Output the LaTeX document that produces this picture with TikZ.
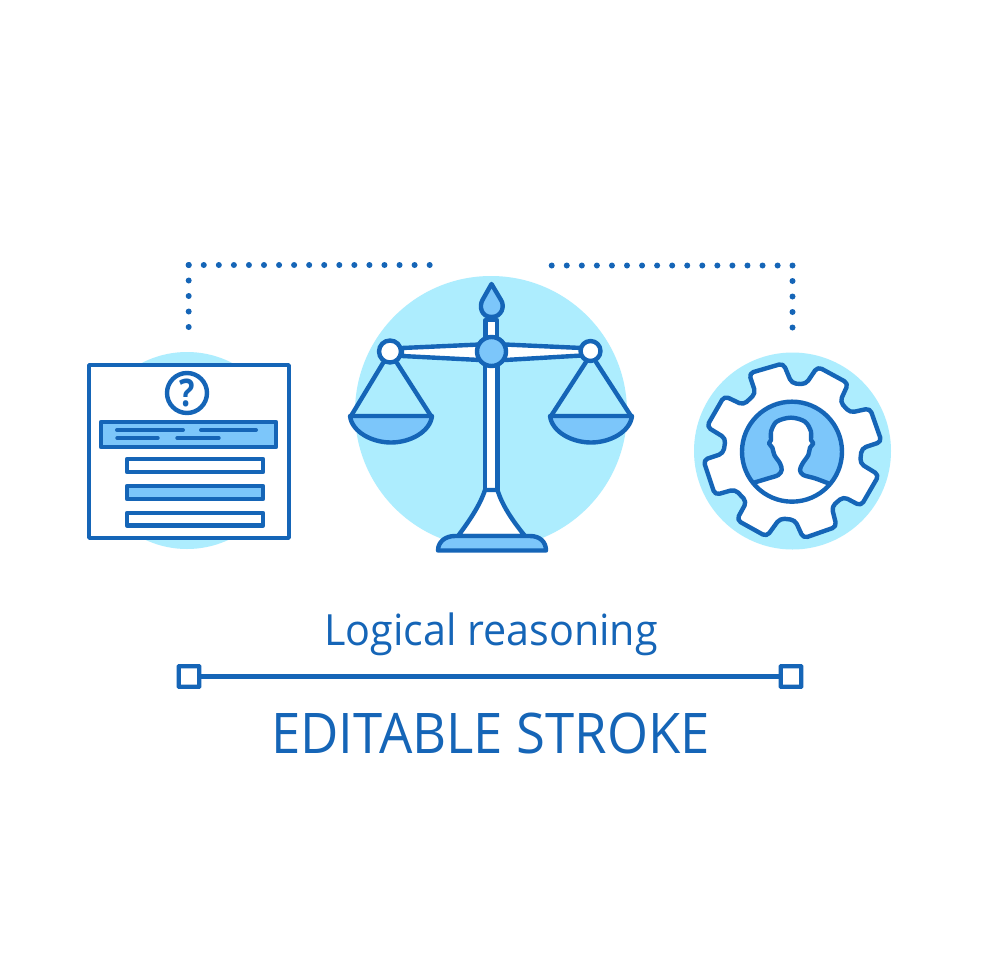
\documentclass[tikz,border=0pt]{standalone}
\usepackage{graphicx}
\usepackage{fontspec}
\setmainfont{Open Sans}
\definecolor{ink}{HTML}{1565B7}
\definecolor{pale}{HTML}{ADEDFE}
\definecolor{mid}{HTML}{7CC6FA}
\tikzset{
  ln/.style={draw=ink,line width=4.4pt,line join=round,line cap=round},
  thinln/.style={draw=ink,line width=4pt,line join=round,line cap=round},
  dotsh/.style={draw=ink,line width=6pt,line cap=round,dash pattern=on 0pt off 15.06pt},
  dotsv/.style={draw=ink,line width=6pt,line cap=round,dash pattern=on 0pt off 15.5pt},
  disc/.style={fill=pale,draw=none},
  handle/.style={draw=ink,line width=4.4pt,fill=white,minimum size=20.5pt,inner sep=0,rounded corners=0.5pt},
}
\begin{document}
\begin{tikzpicture}[x=1pt,y=-1pt]
\useasboundingbox (0,0) rectangle (980,980);
\fill[white] (0,0) rectangle (980,980);
% background discs
\fill[disc] (187,450.5) circle (98.5);
\fill[disc] (491,412) circle (136);
\fill[disc] (792.5,451) circle (98.5);
% dotted connectors
\coordinate (la) at (188.7,327.4);
\coordinate (lb) at (188.7,265);
\coordinate (lc) at (430.5,265);
\coordinate (ra) at (551.7,265.5);
\coordinate (rb) at (792.5,265.5);
\coordinate (rc) at (792.5,327.6);
\draw[dotsh] (lb) -- (lc);
\draw[dotsv] (lb) -- (la);
\draw[dotsh] (ra) -- (rb);
\draw[dotsv] (rb) -- (rc);
% panel
\draw[ln,fill=white] (89.2,365.2) rectangle (288.8,537.8);
\draw[ln,fill=white] (187,393) circle (20);
\node[text=ink,font=\fontsize{38}{38}\selectfont\bfseries,inner sep=0] at (187,393) {\scalebox{.85}[1]{?}};
\draw[ln,fill=mid] (101,422) rectangle (276,447);
\draw[thinln] (117,430) -- (183,430) (201,430) -- (256,430);
\draw[thinln,line width=3.4pt] (117,438) -- (158,438) (177,438) -- (219,438);
\draw[ln,fill=white] (127,459) rectangle (263,472);
\draw[ln,fill=mid] (127,486) rectangle (263,499);
\draw[ln,fill=white] (127,513) rectangle (263,525.5);
% scales
\draw[ln,fill=white] (485.5,320) rectangle (497,340);
\draw[ln,fill=mid] (491.5,284) -- (482.5,300) .. controls (479,306) and (481,317) .. (491.5,317) .. controls (502,317) and (505,306) .. (501,300) -- (491.5,284) -- cycle;
\draw[ln,fill=white] (402,348) -- (480,344.5) -- (505,344.5) -- (582,348) -- (582,355.5) -- (505,360) -- (480,360) -- (402,356) -- cycle;
\draw[ln,fill=white] (485,365) rectangle (497.5,492);
\draw[ln,fill=white] (485,490) .. controls (480,505) and (470,520) .. (458,536) -- (525,536) .. controls (512,520) and (502,505) .. (497.5,490) -- cycle;
\draw[ln,fill=mid] (438,550.5) -- (546,550.5) .. controls (546,542) and (540,536) .. (530,536) -- (455,536) .. controls (445,536) and (438,542) .. (438,550.5) -- cycle;
\draw[ln] (383,363) -- (351,416) (397,363) -- (431,416);
\draw[ln] (586,362) -- (551,416) (596,362) -- (631,416);
\draw[ln,fill=mid] (350,416) -- (432,416) .. controls (430,432) and (410,442.5) .. (391,442.5) .. controls (372,442.5) and (352,432) .. (350,416) -- cycle;
\draw[ln,fill=mid] (550,416) -- (632,416) .. controls (630,432) and (610,442.5) .. (591,442.5) .. controls (572,442.5) and (552,432) .. (550,416) -- cycle;
\draw[ln,fill=mid] (491.5,351.5) circle (14.5);
\draw[ln,fill=white] (390,351.5) circle (11);
\draw[ln,fill=white] (590.5,351) circle (10);
% gear (zoom coordinates mapped to the page)
\begin{scope}[shift={(685,340)},x=0.3333pt,y=-0.3333pt]
\draw[ln,fill=white,rounded corners=4.5pt]
 (192,100)--(295,70)--(320,130)--(362,133)--(398,80)--(490,130)--(465,185)--(495,218)
 --(555,205)--(590,305)--(530,325)--(525,370)--(582,405)--(528,498)--(475,470)--(440,500)
 --(455,560)--(355,595)--(330,540)--(285,535)--(245,590)--(155,540)--(185,485)--(150,448)
 --(90,465)--(55,360)--(115,340)--(122,295)--(65,260)--(118,168)--(175,195)--(212,160)--cycle;
\end{scope}
\begin{scope}[shift={(735,395)},x=0.3333pt,y=-0.3333pt]
\fill[mid] (171,170) circle (150);
\begin{scope}
\clip (171,170) circle (150);
\fill[white] plot[smooth,tension=0.55] coordinates {(60,262) (100,250) (130,240) (140,225) (135,205) (118,180) (112,158) (102,145) (108,135) (108,110) (125,80) (168,68) (210,80) (228,110) (228,135) (235,145) (225,158) (220,180) (203,205) (195,225) (205,240) (240,250) (280,265)} -- (280,330) -- (60,330) -- cycle;
\draw[ln] plot[smooth,tension=0.55] coordinates {(60,262) (100,250) (130,240) (140,225) (135,205) (118,180) (112,158) (102,145) (108,135) (108,110) (125,80) (168,68) (210,80) (228,110) (228,135) (235,145) (225,158) (220,180) (203,205) (195,225) (205,240) (240,250) (280,265)};
\end{scope}
\draw[ln] (171,170) circle (150);
\end{scope}
% caption
\node[text=ink,font=\fontsize{43}{43}\selectfont,anchor=base,inner sep=0] (title) at (491,645) {\scalebox{.96}[1]{Logical reasoning}};
\node[handle] (sl) at (189,676.5) {};
\node[handle] (sr) at (791,676.5) {};
\draw[ln,line cap=butt] (sl) -- (sr);
\node[text=ink,font=\fontsize{56}{56}\selectfont,anchor=base,inner sep=0] (ed) at (490.5,753) {\scalebox{.94}[1]{EDITABLE STROKE}};
\end{tikzpicture}
\end{document}
